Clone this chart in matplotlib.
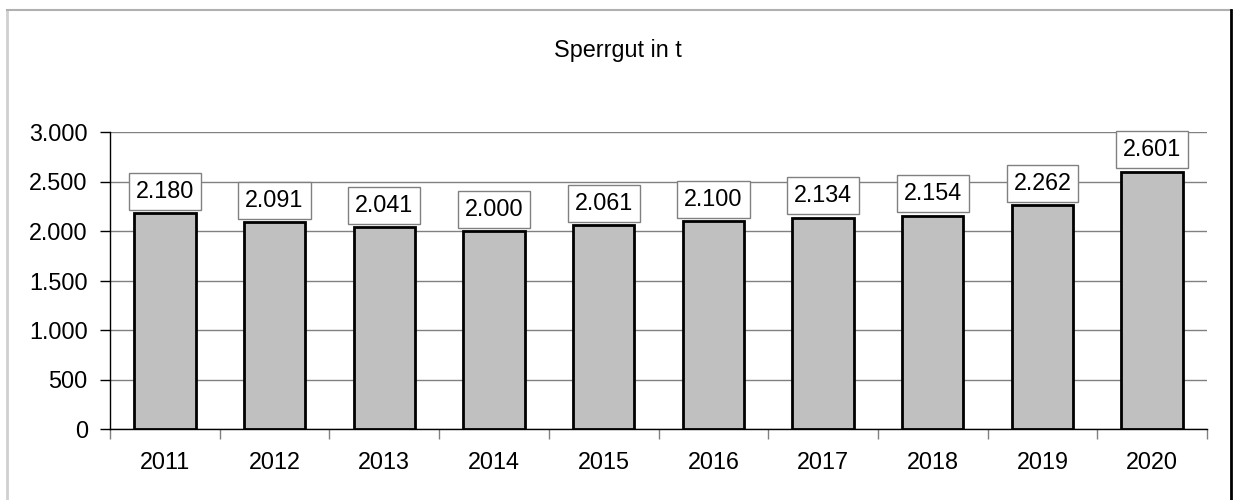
import matplotlib.pyplot as plt
from matplotlib.lines import Line2D
from matplotlib.ticker import FuncFormatter, MultipleLocator
import numpy as np

years = ["2011", "2012", "2013", "2014", "2015", "2016", "2017", "2018", "2019", "2020"]
values = [2180, 2091, 2041, 2000, 2061, 2100, 2134, 2154, 2262, 2601]

plt.rcParams['font.family'] = ['Liberation Sans', 'DejaVu Sans']

W, H = 1236, 500
fig = plt.figure(figsize=(W / 100, H / 100), dpi=100)
# plot area in pixels: left 110, right 1207, top 132, bottom 429
ax = fig.add_axes([110 / W, 1 - 429 / H, (1207 - 110) / W, (429 - 132) / H])

x = np.arange(len(years))
ax.bar(x, values, width=0.56, color="#c0c0c0", edgecolor="black", linewidth=2, zorder=3)

def fmt(v, pos=None):
    return f"{int(v):,}".replace(",", ".")

for xi, v in zip(x, values):
    ax.annotate(fmt(v), (xi, v), xytext=(0, 7.5), textcoords="offset points",
                ha="center", va="bottom", fontsize=16.8, zorder=4,
                bbox=dict(boxstyle="square,pad=0.3", fc="white", ec="#808080", lw=1))

ax.set_xlim(-0.5, len(years) - 0.5)
ax.set_ylim(0, 3000)
ax.yaxis.set_major_locator(MultipleLocator(500))
ax.yaxis.set_major_formatter(FuncFormatter(fmt))
ax.grid(axis="y", color="#808080", linewidth=1, zorder=0)

ax.set_xticks(x)
ax.set_xticklabels(years)
ax.set_xticks(np.arange(-0.5, len(years)), minor=True)
ax.tick_params(axis="x", which="major", length=0, labelsize=16.8, pad=16)
ax.tick_params(axis="x", which="minor", length=7, color="#808080", width=1)
ax.tick_params(axis="y", length=7, width=1, labelsize=16.8, pad=9)

for s in ["top", "right"]:
    ax.spines[s].set_visible(False)
ax.spines["left"].set_linewidth(1)
ax.spines["bottom"].set_linewidth(1)

fig.text(618 / W, 1 - 50 / H, "Sperrgut in t", ha="center", va="center", fontsize=16.8)

# outer chart frame
fig.add_artist(Line2D([7 / W, 7 / W], [0, 1 - 10 / H], color="#d0d0d0", lw=2, transform=fig.transFigure))
fig.add_artist(Line2D([7 / W, 1231 / W], [1 - 10 / H, 1 - 10 / H], color="#b0b0b0", lw=1.5, transform=fig.transFigure))
fig.add_artist(Line2D([1231 / W, 1231 / W], [0, 1 - 10 / H], color="black", lw=2, transform=fig.transFigure))

fig.savefig("out.png", dpi=100)
